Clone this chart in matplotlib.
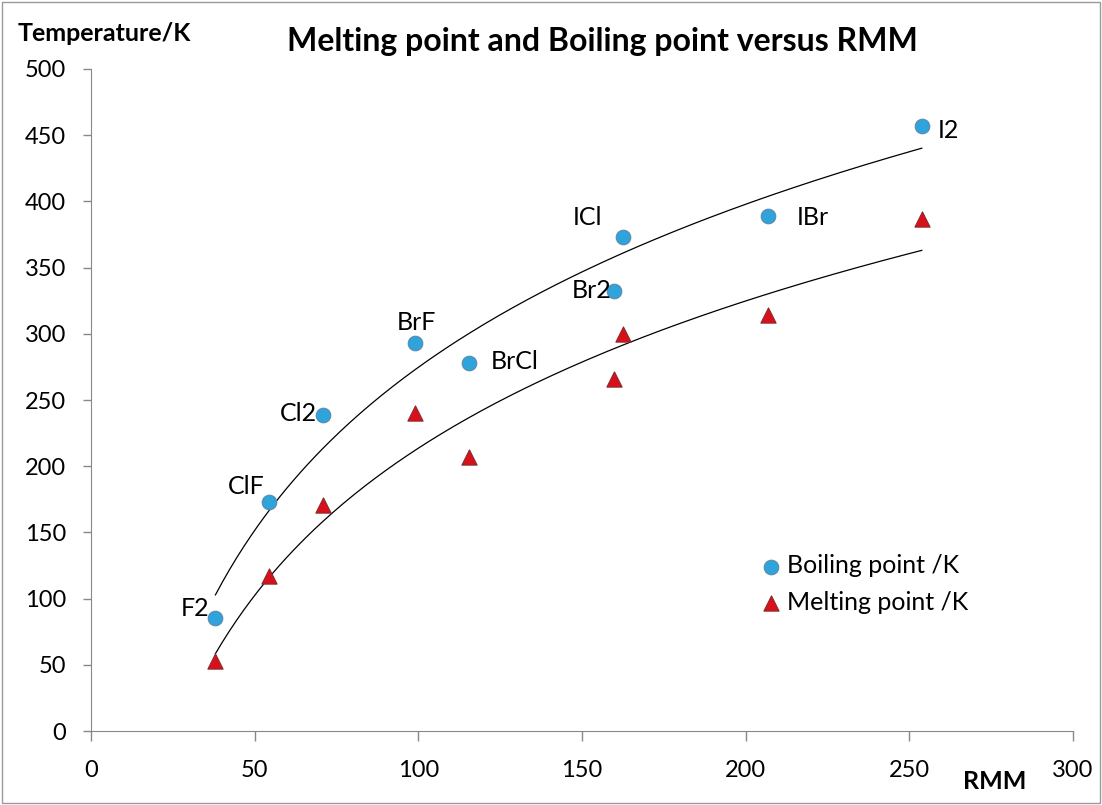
import numpy as np
import matplotlib.pyplot as plt
from matplotlib.patches import Rectangle

# data
molecules = ["F2", "ClF", "Cl2", "BrF", "BrCl", "Br2", "ICl", "IBr", "I2"]
rmm = [38.0, 54.5, 70.9, 98.9, 115.4, 159.8, 162.4, 206.8, 253.8]
boiling_k = [85, 173, 239, 293, 278, 332, 373, 389, 457]
melting_k = [53, 117, 171, 240, 207, 266, 300, 314, 387]

# label offsets (points) for the molecule names
label_offsets = {
    "F2": (-15, 7), "ClF": (-17, 11), "Cl2": (-18, 1), "BrF": (1, 15),
    "BrCl": (33, 1), "Br2": (-16, 1), "ICl": (-25, 14), "IBr": (32, -1),
    "I2": (19, -3),
}

FONT = ["Lato", "DejaVu Sans"]
plt.rcParams["font.family"] = FONT

BLUE = "#2fa3dc"
RED = "#d8101c"


def log_fit(x, y):
    a, b = np.polyfit(np.log(x), y, 1)
    xs = np.linspace(min(x), max(x), 200)
    return xs, a * np.log(xs) + b


fig = plt.figure(figsize=(11.02, 8.05), dpi=100)
fig.patches.append(Rectangle((0.002, 0.002), 0.996, 0.996, transform=fig.transFigure,
                             fill=False, edgecolor="#9a9a9a", linewidth=1))
ax = fig.add_axes([0.0826, 0.0919, 0.8911, 0.8224])

x = np.array(rmm)
for series in (boiling_k, melting_k):
    xs, ys = log_fit(x, np.array(series))
    ax.plot(xs, ys, color="black", linewidth=0.9, zorder=2)

ax.scatter(rmm, boiling_k, s=110, marker="o", color=BLUE, edgecolors="#5a8aa8",
           linewidths=0.8, zorder=3, label="Boiling point /K")
ax.scatter(rmm, melting_k, s=120, marker="^", color=RED, edgecolors="#8a2a2a",
           linewidths=0.8, zorder=3, label="Melting point /K")

for name, xv, yv in zip(molecules, rmm, boiling_k):
    ax.annotate(name, (xv, yv), xytext=label_offsets[name], textcoords="offset points",
                ha="center", va="center", fontsize=18)

ax.set_xlim(0, 300)
ax.set_ylim(0, 500)
ax.set_xticks(range(0, 301, 50))
ax.set_yticks(range(0, 501, 50))
ax.tick_params(labelsize=17, colors="#888888", labelcolor="black", length=6, width=1)
ax.tick_params(axis="y", pad=12)
ax.tick_params(axis="x", length=7, pad=14)
for side in ("top", "right"):
    ax.spines[side].set_visible(False)
for side in ("left", "bottom"):
    ax.spines[side].set_color("#888888")

ax.legend(loc="upper left", bbox_to_anchor=(0.682, 0.267), frameon=False, fontsize=18,
          handletextpad=0.25, labelspacing=0.55, borderaxespad=0, borderpad=0,
          handlelength=0.8, markerscale=1.0)

fig.text(0.547, 0.948, "Melting point and Boiling point versus RMM", ha="center",
         va="center", fontsize=23, fontweight="bold")
fig.text(0.016, 0.958, "Temperature/K", ha="left", va="center", fontsize=18,
         fontweight="bold")
fig.text(0.903, 0.029, "RMM", ha="center", va="center", fontsize=18, fontweight="bold")

fig.savefig("out.png", dpi=100)
